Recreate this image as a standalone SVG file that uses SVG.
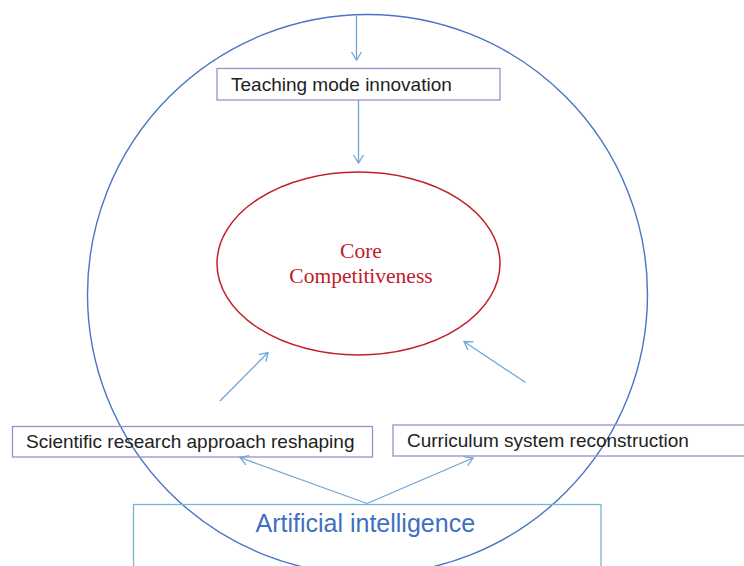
<svg xmlns="http://www.w3.org/2000/svg" width="744" height="566" viewBox="0 0 744 566">
  <style>
    .box { fill: none; stroke: #a48cc8; stroke-width: 1.3; }
    .label { font-family: "Liberation Sans", Arial, sans-serif; font-size: 19px; fill: #222222; }
    .core { font-family: "Liberation Serif", "Times New Roman", serif; font-size: 21.5px; fill: #c0202a; text-anchor: middle; }
    .ai { font-family: "Liberation Sans", Arial, sans-serif; font-size: 25px; fill: #3f6fc0; }
    .conn { fill: none; stroke: #6fa6d6; stroke-width: 1.3; marker-end: url(#open); }
  </style>
  <defs>
    <marker id="open" markerUnits="userSpaceOnUse" markerWidth="14" markerHeight="14" refX="10" refY="6" orient="auto">
      <path d="M2,1 L10,6 L2,11" fill="none" stroke="#6fa6d6" stroke-width="1.3"/>
    </marker>
  </defs>
  <rect width="744" height="566" fill="#ffffff"/>

  <!-- outer boundary circle -->
  <g id="outer-circle">
    <circle cx="367.5" cy="294.5" r="280" fill="none" stroke="#4a74c4" stroke-width="1.4"/>
  </g>

  <!-- central ellipse -->
  <g id="core">
    <ellipse cx="358.5" cy="263.5" rx="141.5" ry="91.5" fill="none" stroke="#c0202a" stroke-width="1.5"/>
    <text class="core" x="361" y="257.5">Core</text>
    <text class="core" x="361" y="283">Competitiveness</text>
  </g>

  <g id="teaching">
    <rect class="box" x="217" y="68.5" width="283" height="31.5"/>
    <text class="label" x="231" y="90.5">Teaching mode innovation</text>
  </g>

  <g id="research">
    <rect class="box" x="12.5" y="426.5" width="360" height="30.5"/>
    <text class="label" x="26" y="448">Scientific research approach reshaping</text>
  </g>

  <g id="curriculum">
    <rect class="box" x="393" y="425" width="360" height="31"/>
    <text class="label" x="407" y="446.5">Curriculum system reconstruction</text>
  </g>

  <g id="ai">
    <rect x="133.5" y="504.5" width="467.5" height="80" fill="none" stroke="#74b6d4" stroke-width="1.3"/>
    <text class="ai" x="255.5" y="531.5">Artificial intelligence</text>
  </g>

  <!-- connectors -->
  <g id="connectors">
    <line class="conn" x1="356.5" y1="16" x2="356.5" y2="60"/>
    <line class="conn" x1="358.5" y1="100" x2="358.5" y2="163"/>
    <line class="conn" x1="220" y1="401" x2="268" y2="352.5"/>
    <line class="conn" x1="525.5" y1="382.5" x2="464" y2="341.5"/>
    <line class="conn" x1="367" y1="503.5" x2="240" y2="457.5"/>
    <line class="conn" x1="367" y1="503.5" x2="473" y2="458"/>
  </g>
</svg>
